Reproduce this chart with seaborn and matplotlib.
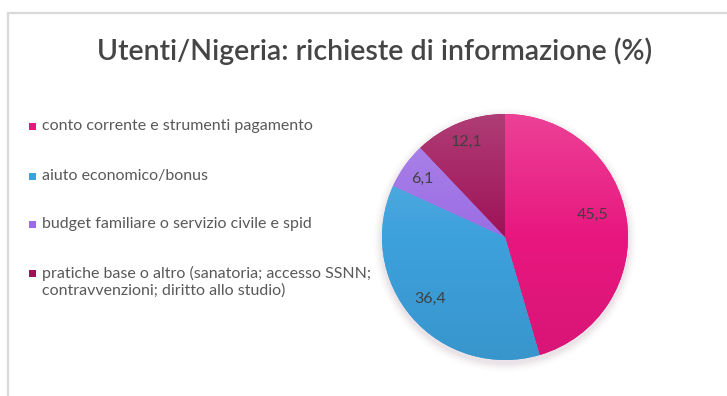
import numpy as np
import matplotlib
matplotlib.use("Agg")
import matplotlib.pyplot as plt
import seaborn as sns
from matplotlib.patches import Rectangle, Circle
from matplotlib.colors import to_rgb, LinearSegmentedColormap

# --- data ---------------------------------------------------------------
categorie = [
    "conto corrente e strumenti pagamento",
    "aiuto economico/bonus",
    "budget familiare o servizio civile e spid",
    "pratiche base o altro (sanatoria; accesso SSNN;\ncontravvenzioni; diritto allo studio)",
]
percentuali = [45.5, 36.4, 6.1, 12.1]
colori = ["#E8177F", "#3DA1DC", "#9B6CE4", "#9E1257"]
titolo = "Utenti/Nigeria: richieste di informazione (%)"

# --- style --------------------------------------------------------------
W, H = 727, 396
sns.set_theme(style="white")
plt.rcParams["font.family"] = ["Lato", "DejaVu Sans"]
testo_grigio = "#595959"

fig = plt.figure(figsize=(W / 100, H / 100), dpi=100)
fig.patch.set_facecolor("white")


def fx(x):
    return x / W


def fy(y):
    return 1 - y / H


# light frame of the chart area (left and top edges visible)
fig.add_artist(Rectangle((fx(8), -0.05), 1.2, fy(13) + 0.05,
                         transform=fig.transFigure, fill=False,
                         edgecolor="#D9D9D9", linewidth=1.6))

# title
fig.text(fx(375), fy(51), titolo, ha="center", va="center",
         fontsize=20.5, fontweight="semibold", color="#454545")

# legend drawn as coloured squares with text
righe_y = [126, 176, 224, 273]
for cat, col, y in zip(categorie, colori, righe_y):
    fig.add_artist(Rectangle((fx(29), fy(y + 3.5)), 7 / W, 7 / H,
                             transform=fig.transFigure, facecolor=col,
                             edgecolor="none"))
    first, *rest = cat.split("\n")
    fig.text(fx(42), fy(y), first, ha="left", va="center",
             fontsize=11.5, color=testo_grigio)
    for k, extra in enumerate(rest, start=1):
        fig.text(fx(42), fy(y + 18 * k), extra, ha="left", va="center",
                 fontsize=11.5, color=testo_grigio)

# --- pie ----------------------------------------------------------------
cx, cy, R = 505, 237, 123
ax = fig.add_axes([fx(cx - R), fy(cy + R), 2 * R / W, 2 * R / H])

# soft shadow under the pie
for i, a in enumerate(np.linspace(0.05, 0.012, 6)):
    ax.add_patch(Circle((0.0, -0.025), 1.0 + 0.012 * (i + 1), facecolor="#9a7a8a",
                        edgecolor="none", alpha=a, zorder=0, clip_on=False))

wedges, _ = ax.pie(percentuali, colors=colori, startangle=90,
                   counterclock=False, radius=1.0, normalize=True,
                   wedgeprops=dict(linewidth=0))

# vertical shading inside every slice
grad = np.linspace(0, 1, 256).reshape(-1, 1)
for w, col in zip(wedges, colori):
    base = np.array(to_rgb(col))
    top = base + (1 - base) * 0.18
    bottom = base * 0.93
    cmap = LinearSegmentedColormap.from_list("g", [bottom, base, top])
    im = ax.imshow(grad, extent=[-1, 1, -1, 1], origin="lower", cmap=cmap,
                   aspect="auto", zorder=w.get_zorder() + 0.1)
    im.set_clip_path(w)

# value labels
pos_etichette = [(0.715, 0.18), (-0.61, -0.505), (-0.675, 0.47), (-0.317, 0.77)]
for v, (lx, ly) in zip(percentuali, pos_etichette):
    ax.text(lx, ly, f"{v:.1f}".replace(".", ","), ha="center", va="center",
            fontsize=11.5, color="#404040", zorder=10)

ax.set_xlim(-1, 1)
ax.set_ylim(-1, 1)
ax.set_aspect("equal")
ax.axis("off")

fig.savefig("out.png", dpi=100, facecolor="white")
